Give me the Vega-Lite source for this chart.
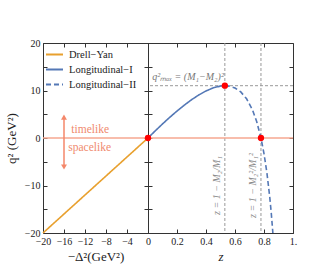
{
  "$schema": "https://vega.github.io/schema/vega-lite/v6.json",
  "autosize": {"type": "none"},
  "padding": {"left": 43, "top": 43, "right": 291, "bottom": 235},
  "bounds": "flush",
  "spacing": 0,
  "config": {
    "font": "Liberation Serif",
    "mark": {"font": "Liberation Serif"},
    "text": {"font": "Liberation Serif"},
    "view": {"stroke": "#333", "strokeWidth": 1},
    "axis": {
      "domain": false, "grid": false, "tickColor": "#333", "tickSize": -4, "tickWidth": 1,
      "labelFontSize": 10, "labelColor": "#222", "labelFont": "Liberation Serif",
      "titleFontSize": 13, "titleFontWeight": "normal", "titleColor": "#222", "titleFont": "Liberation Serif",
      "labelPadding": 6, "labelOverlap": false, "labelFlush": false
    },
    "legend": {"labelFont": "Liberation Serif"}
  },
  "hconcat": [
    {
      "width": 105,
      "height": 190,
      "layer": [
        {
          "data": {"values": [{"q2": 0}]},
          "mark": {"type": "rule", "color": "#F6A790", "strokeWidth": 1.5},
          "encoding": {"y": {"field": "q2", "type": "quantitative", "axis": null}}
        },
        {
          "data": {"values": [
            {"d": -20, "q2": -20, "series": "Drell−Yan"},
            {"d": 0, "q2": 0, "series": "Drell−Yan"}
          ]},
          "mark": {"type": "line", "strokeWidth": 1.6},
          "encoding": {
            "x": {"field": "d", "type": "quantitative", "scale": {"domain": [-20, 0], "nice": false, "zero": false},
                  "axis": {"orient": "bottom", "values": [-20, -16, -12, -8, -4, 0], "title": "−Δ²(GeV²)", "titlePadding": 4, "labelPadding": 7}},
            "y": {"field": "q2", "type": "quantitative", "scale": {"domain": [-20, 20], "nice": false},
                  "axis": {"orient": "left", "values": [-20, -15, -10, -5, 0, 5, 10, 15, 20],
                           "labelExpr": "datum.value % 10 === 0 ? datum.label : ''", "title": "q² (GeV²)", "titlePadding": 6, "labelPadding": 7}},
            "color": {"field": "series", "type": "nominal",
                      "scale": {"domain": ["Drell−Yan", "Longitudinal−I", "Longitudinal−II"], "range": ["#E8A02E", "#5478B6", "#5478B6"]},
                      "legend": {"title": null, "orient": "top-left", "offset": 2, "symbolType": "stroke", "symbolSize": 289,
                                 "symbolStrokeWidth": 2, "labelFont": "Liberation Serif", "labelFontSize": 10.5, "labelColor": "#222", "rowPadding": 0, "padding": 0, "labelOffset": 5}},
            "strokeDash": {"field": "series", "type": "nominal",
                           "scale": {"domain": ["Drell−Yan", "Longitudinal−I", "Longitudinal−II"], "range": [[1, 0], [1, 0], [5, 3]]},
                           "legend": {"title": null, "orient": "top-left", "offset": 2, "symbolType": "stroke", "symbolSize": 289,
                                      "symbolStrokeWidth": 2, "labelFont": "Liberation Serif", "labelFontSize": 10.5, "labelColor": "#222", "rowPadding": 0, "padding": 0, "labelOffset": 5}}
          }
        },
        {
          "data": {"values": [{"d": -16, "q2": -6.1, "q2b": 4.4}]},
          "mark": {"type": "rule", "color": "#F4876A", "strokeWidth": 1.5},
          "encoding": {
            "x": {"field": "d", "type": "quantitative", "axis": null},
            "y": {"field": "q2", "type": "quantitative", "axis": null},
            "y2": {"field": "q2b"}
          }
        },
        {
          "data": {"values": [{"d": -16, "q2": 4.4, "shape": "triangle-up"}, {"d": -16, "q2": -6.1, "shape": "triangle-down"}]},
          "mark": {"type": "point", "filled": true, "color": "#F4876A", "size": 35, "opacity": 1},
          "encoding": {
            "x": {"field": "d", "type": "quantitative", "axis": null},
            "y": {"field": "q2", "type": "quantitative", "axis": null},
            "shape": {"field": "shape", "type": "nominal", "scale": null, "legend": null}
          }
        },
        {
          "data": {"values": [{"d": -14.6, "q2": 1.7, "label": "timelike"}, {"d": -15.2, "q2": -2.0, "label": "spacelike"}]},
          "mark": {"type": "text", "align": "left", "baseline": "middle", "fontSize": 11.5, "font": "Liberation Serif", "color": "#F08A6E"},
          "encoding": {
            "x": {"field": "d", "type": "quantitative", "axis": null},
            "y": {"field": "q2", "type": "quantitative", "axis": null},
            "text": {"field": "label"}
          }
        },
        {
          "data": {"values": [{"d": -10, "q2": 0}]},
          "mark": {"type": "point", "opacity": 0},
          "encoding": {
            "x": {"field": "d", "type": "quantitative",
                  "axis": {"orient": "top", "values": [-20, -16, -12, -8, -4, 0], "labels": false, "title": null}},
            "y": {"field": "q2", "type": "quantitative",
                  "axis": {"orient": "right", "values": [-20, -15, -10, -5, 0, 5, 10, 15, 20], "labels": false, "title": null}}
          }
        }
      ],
      "resolve": {"axis": {"x": "independent", "y": "independent"}}
    },
    {
      "width": 145,
      "height": 190,
      "layer": [
        {
          "data": {"values": [{"z": 0.53}, {"z": 0.779}]},
          "mark": {"type": "rule", "color": "#999", "strokeWidth": 1, "strokeDash": [3, 2]},
          "encoding": {"x": {"field": "z", "type": "quantitative", "axis": null, "scale": {"domain": [0, 1], "nice": false}}}
        },
        {
          "data": {"values": [{"q2": 11.01}]},
          "mark": {"type": "rule", "color": "#999", "strokeWidth": 1, "strokeDash": [3, 2]},
          "encoding": {"y": {"field": "q2", "type": "quantitative", "axis": null, "scale": {"domain": [-20, 20], "nice": false}}}
        },
        {
          "data": {"values": [{"q2": 0}]},
          "mark": {"type": "rule", "color": "#F6A790", "strokeWidth": 1.5},
          "encoding": {"y": {"field": "q2", "type": "quantitative", "axis": null}}
        },
        {
          "data": {"values": [
            {"z": 0, "q2": 0, "series": "Longitudinal−I"},
            {"z": 0.05, "q2": 1.504, "series": "Longitudinal−I"},
            {"z": 0.1, "q2": 2.958, "series": "Longitudinal−I"},
            {"z": 0.15, "q2": 4.352, "series": "Longitudinal−I"},
            {"z": 0.2, "q2": 5.675, "series": "Longitudinal−I"},
            {"z": 0.25, "q2": 6.913, "series": "Longitudinal−I"},
            {"z": 0.3, "q2": 8.049, "series": "Longitudinal−I"},
            {"z": 0.35, "q2": 9.057, "series": "Longitudinal−I"},
            {"z": 0.4, "q2": 9.907, "series": "Longitudinal−I"},
            {"z": 0.45, "q2": 10.555, "series": "Longitudinal−I"},
            {"z": 0.5, "q2": 10.94, "series": "Longitudinal−I"},
            {"z": 0.53, "q2": 11.01, "series": "Longitudinal−I"},
            {"z": 0.53, "q2": 11.01, "series": "Longitudinal−II"},
            {"z": 0.56, "q2": 10.93, "series": "Longitudinal−II"},
            {"z": 0.6, "q2": 10.53, "series": "Longitudinal−II"},
            {"z": 0.64, "q2": 9.692, "series": "Longitudinal−II"},
            {"z": 0.68, "q2": 8.253, "series": "Longitudinal−II"},
            {"z": 0.72, "q2": 5.955, "series": "Longitudinal−II"},
            {"z": 0.75, "q2": 3.42, "series": "Longitudinal−II"},
            {"z": 0.779, "q2": 0, "series": "Longitudinal−II"},
            {"z": 0.8, "q2": -3.28, "series": "Longitudinal−II"},
            {"z": 0.82, "q2": -7.307, "series": "Longitudinal−II"},
            {"z": 0.84, "q2": -12.537, "series": "Longitudinal−II"},
            {"z": 0.85, "q2": -15.75, "series": "Longitudinal−II"},
            {"z": 0.8612, "q2": -20, "series": "Longitudinal−II"}
          ]},
          "mark": {"type": "line", "strokeWidth": 1.6},
          "encoding": {
            "x": {"field": "z", "type": "quantitative", "axis": null},
            "y": {"field": "q2", "type": "quantitative", "axis": null},
            "color": {"field": "series", "type": "nominal",
                      "scale": {"domain": ["Drell−Yan", "Longitudinal−I", "Longitudinal−II"], "range": ["#E8A02E", "#5478B6", "#5478B6"]},
                      "legend": null},
            "strokeDash": {"field": "series", "type": "nominal",
                           "scale": {"domain": ["Drell−Yan", "Longitudinal−I", "Longitudinal−II"], "range": [[1, 0], [1, 0], [5, 3]]},
                           "legend": null}
          }
        },
        {
          "data": {"values": [{"z": 0, "q2": 0}, {"z": 0.53, "q2": 11.01}, {"z": 0.779, "q2": 0}]},
          "mark": {"type": "circle", "color": "#FF0000", "size": 40, "opacity": 1, "clip": false},
          "encoding": {
            "x": {"field": "z", "type": "quantitative", "axis": null},
            "y": {"field": "q2", "type": "quantitative", "axis": null}
          }
        },
        {
          "data": {"values": [{"z": 0.03, "q2": 12.9, "label": "q²ₘₐₓ = (M₁−M₂)²"}]},
          "mark": {"type": "text", "align": "left", "baseline": "middle", "fontSize": 10, "fontStyle": "italic", "font": "Liberation Serif", "color": "#777"},
          "encoding": {
            "x": {"field": "z", "type": "quantitative", "axis": null},
            "y": {"field": "q2", "type": "quantitative", "axis": null},
            "text": {"field": "label"}
          }
        },
        {
          "data": {"values": [{"z": 0.476, "q2": -10, "label": "z = 1 − M₂/M₁"}, {"z": 0.724, "q2": -10, "label": "z = 1 − M₂²/M₁²"}]},
          "mark": {"type": "text", "align": "center", "baseline": "middle", "angle": 270, "fontSize": 10, "fontStyle": "italic", "font": "Liberation Serif", "color": "#888"},
          "encoding": {
            "x": {"field": "z", "type": "quantitative", "axis": null},
            "y": {"field": "q2", "type": "quantitative", "axis": null},
            "text": {"field": "label"}
          }
        },
        {
          "data": {"values": [{"z": 0.5, "q2": 0}]},
          "mark": {"type": "point", "opacity": 0},
          "encoding": {
            "x": {"field": "z", "type": "quantitative",
                  "axis": {"orient": "bottom", "values": [0.2, 0.4, 0.6, 0.8, 1], "format": ".1f", "labelPadding": 7,
                           "labelExpr": "datum.value == 1 ? '1.' : datum.label", "title": "z", "titleFontStyle": "italic", "titlePadding": 4}},
            "y": {"field": "q2", "type": "quantitative",
                  "axis": {"orient": "right", "values": [-20, -15, -10, -5, 0, 5, 10, 15, 20], "labels": false, "title": null}}
          }
        },
        {
          "data": {"values": [{"z": 0.5, "q2": 0}]},
          "mark": {"type": "point", "opacity": 0},
          "encoding": {
            "x": {"field": "z", "type": "quantitative",
                  "axis": {"orient": "top", "values": [0.2, 0.4, 0.6, 0.8], "labels": false, "title": null}},
            "y": {"field": "q2", "type": "quantitative",
                  "axis": {"orient": "left", "values": [-20, -15, -10, -5, 0, 5, 10, 15, 20], "labels": false, "title": null}}
          }
        }
      ],
      "resolve": {"axis": {"x": "independent", "y": "independent"}}
    }
  ]
}
